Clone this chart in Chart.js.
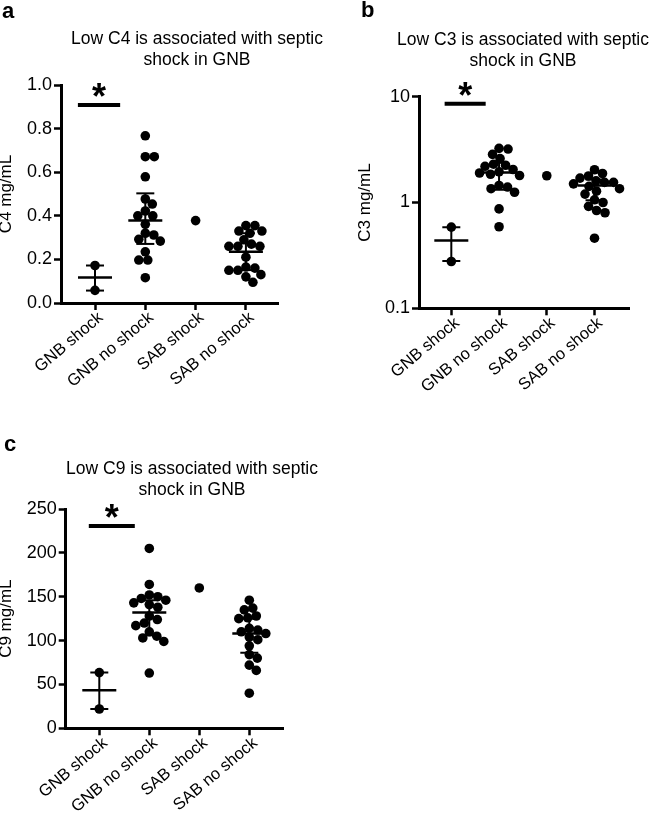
<!DOCTYPE html>
<html>
<head>
<meta charset="utf-8">
<script src="https://cdn.jsdelivr.net/npm/chart.js@4.4.1/dist/chart.umd.min.js"></script>
<style>
  body { margin: 0; width: 649px; height: 823px; position: relative; overflow: hidden; background: #fff;
         font-family: 'Liberation Sans', Arial, sans-serif; color: #000; }
  canvas { position: absolute; }
  .tag { position: absolute; font-weight: bold; font-size: 22px; line-height: 22px; }
  .ttl { position: absolute; width: 300px; text-align: center; font-size: 17.5px; line-height: 21px; white-space: nowrap; }
</style>
</head>
<body>
<canvas id="chartA" width="325" height="400" style="left:0;top:0"></canvas>
<canvas id="chartB" width="324" height="400" style="left:325px;top:0"></canvas>
<canvas id="chartC" width="325" height="423" style="left:0;top:400px"></canvas>

<div class="tag" style="left:2px;top:0">a</div>
<div class="tag" style="left:361px;top:-1px">b</div>
<div class="tag" style="left:4px;top:433px">c</div>
<div class="ttl" style="left:47px;top:28px">Low C4 is associated with septic<br>shock in GNB</div>
<div class="ttl" style="left:373px;top:29px">Low C3 is associated with septic<br>shock in GNB</div>
<div class="ttl" style="left:42px;top:458px">Low C9 is associated with septic<br>shock in GNB</div>

<script>
const categories = ["GNB shock", "GNB no shock", "SAB shock", "SAB no shock"];

// panel a - C4 mg/mL
const c4GnbShock = [0.172, 0.058];
const c4GnbNoShock = [0.767, 0.671, 0.671, 0.579, 0.477, 0.454, 0.422, 0.40, 0.40, 0.361, 0.320, 0.312, 0.292, 0.284, 0.235, 0.197, 0.197, 0.116];
const c4SabShock = [0.378];
const c4SabNoShock = [0.355, 0.355, 0.33, 0.33, 0.32, 0.29, 0.27, 0.26, 0.26, 0.26, 0.21, 0.165, 0.16, 0.15, 0.15, 0.13, 0.12, 0.095];
const c4Center = [0.117, 0.378, null, 0.235];
const c4Low = [0.057, 0.271, null, 0.151];
const c4High = [0.172, 0.503, null, 0.32];
const c4Ticks = [0, 0.2, 0.4, 0.6, 0.8, 1.0];

// panel b - C3 mg/mL (log axis)
const c3GnbShock = [0.585, 0.277];
const c3GnbNoShock = [3.25, 3.2, 2.85, 2.6, 2.3, 2.25, 2.2, 2.05, 1.95, 1.9, 1.85, 1.8, 1.45, 1.4, 1.35, 1.25, 0.87, 0.59];
const c3SabShock = [1.79];
const c3SabNoShock = [2.04, 1.88, 1.78, 1.7, 1.6, 1.55, 1.55, 1.5, 1.42, 1.35, 1.28, 1.2, 1.06, 1.0, 0.92, 0.84, 0.8, 0.46];
const c3Center = [0.437, 1.92, null, 1.45];
const c3Low = [0.28, 1.32, null, 1.05];
const c3High = [0.585, 2.37, null, 1.65];
const c3Ticks = [0.1, 1, 10];

// panel c - C9 mg/mL
const c9GnbShock = [63.5, 22];
const c9GnbNoShock = [205, 164, 152, 150, 148, 146, 143, 141, 138, 128, 124, 120, 117, 110, 105, 103, 99, 63];
const c9SabShock = [160];
const c9SabNoShock = [146, 137, 135, 128, 126, 125, 114, 112, 110, 108, 104, 101, 94, 84, 80, 72, 66, 40];
const c9Center = [43.3, 132, null, 108];
const c9Low = [22, 106, null, 86];
const c9High = [63.5, 146, null, 125];
const c9Ticks = [0, 50, 100, 150, 200, 250];

// significance bars: from / to in category units, height in data units
const sigA = { from: -0.34, to: 0.5, y: 0.908 };
const sigB = { from: -0.14, to: 0.72, y: 8.57 };
const sigC = { from: -0.21, to: 0.71, y: 230.6 };

Chart.defaults.font.family = "'Liberation Sans', Arial, sans-serif";
Chart.defaults.font.size = 18;
Chart.defaults.color = "#000";

const DOT = 4.8;
const GAP = 8.6;

// simple beeswarm: pixel offsets so dots of one group barely overlap
function swarm(values, yScale) {
  const placed = [];
  return values.map((v) => {
    const py = yScale.getPixelForValue(v);
    let off = 0;
    for (let k = 0; k < 400; k++) {
      const cand = (k % 2 ? 1 : -1) * Math.ceil(k / 2) * 0.5;
      if (placed.every((p) => Math.hypot(p.x - cand, p.y - py) >= GAP)) {
        off = cand;
        break;
      }
    }
    placed.push({ x: off, y: py });
    return off;
  });
}

const starPlugin = {
  id: "star",
  afterDatasetsDraw(chart, args, opts) {
    const { ctx, scales: { x, y } } = chart;
    ctx.save();
    ctx.font = "bold 36px 'Liberation Sans', Arial, sans-serif";
    ctx.textAlign = "center";
    ctx.textBaseline = "alphabetic";
    ctx.fillStyle = "#000";
    ctx.fillText("*", x.getPixelForValue((opts.from + opts.to) / 2), y.getPixelForValue(opts.y) + 4);
    ctx.restore();
  },
};

function buildPanel(id, p) {
  const canvas = document.getElementById(id);
  const W = canvas.width, H = canvas.height;

  const dots = [];
  p.groups.forEach((vals, i) => vals.forEach((v) => dots.push({ x: i, y: v })));
  const whiskers = [], caps = [], centers = [];
  p.center.forEach((m, i) => {
    if (m === null) return;
    whiskers.push({ x: i, y: p.low[i] }, { x: i, y: p.high[i] }, { x: i, y: null });
    caps.push({ x: i, y: p.low[i] }, { x: i, y: p.high[i] });
    centers.push({ x: i, y: m });
  });

  const chart = new Chart(canvas, {
    type: "scatter",
    data: {
      datasets: [
        { data: dots, pointRadius: DOT, pointBackgroundColor: "#000", pointBorderWidth: 0 },
        { data: whiskers, showLine: true, spanGaps: false, borderColor: "#000", borderWidth: 2, pointRadius: 0 },
        { data: caps, pointStyle: "line", pointRadius: 9, pointBorderColor: "#000", pointBorderWidth: 2 },
        { data: centers, pointStyle: "line", pointRadius: 17, pointBorderColor: "#000", pointBorderWidth: 2.5 },
        {
          data: [{ x: p.sig.from, y: p.sig.y }, { x: p.sig.to, y: p.sig.y }],
          showLine: true, borderColor: "#000", borderWidth: 4, pointRadius: 0, clip: false,
        },
      ],
    },
    options: {
      responsive: false,
      animation: false,
      layout: { padding: { left: 0, top: p.area.top, right: W - p.area.right, bottom: 0 } },
      plugins: { legend: { display: false }, tooltip: { enabled: false }, star: p.sig },
      scales: {
        x: {
          type: "linear",
          min: p.xmin,
          max: p.xmax,
          afterFit: (s) => { s.height = H - p.area.bottom; },
          afterBuildTicks: (s) => { s.ticks = categories.map((c, i) => ({ value: i })); },
          ticks: { minRotation: 40, maxRotation: 40, autoSkip: false, padding: -2, labelOffset: 6,
                   font: { size: 16.5 }, callback: (v) => categories[v] },
          grid: { drawOnChartArea: false, tickLength: 7, tickWidth: 2.5, tickColor: "#000" },
          border: { color: "#000", width: 3 },
        },
        y: {
          type: p.log ? "logarithmic" : "linear",
          min: p.ticks[0],
          max: p.ticks[p.ticks.length - 1],
          afterFit: (s) => { s.width = p.area.left; },
          afterBuildTicks: (s) => { s.ticks = p.ticks.map((v) => ({ value: v })); },
          ticks: { padding: 2, callback: p.fmt },
          grid: { drawOnChartArea: false, tickLength: 7, tickWidth: 2.5, tickColor: "#000" },
          border: { color: "#000", width: 3 },
          title: { display: true, text: p.ytitle, font: { size: 17, lineHeight: "12px" },
                   padding: { top: p.ytitlePad, bottom: 0 } },
        },
      },
    },
    plugins: [starPlugin],
  });

  const unit = chart.scales.x.getPixelForValue(1) - chart.scales.x.getPixelForValue(0);
  const spread = [];
  p.groups.forEach((vals, i) => {
    const offs = swarm(vals, chart.scales.y);
    vals.forEach((v, j) => spread.push({ x: i + offs[j] / unit, y: v }));
  });
  chart.data.datasets[0].data = spread;
  chart.update("none");
  return chart;
}

buildPanel("chartA", {
  groups: [c4GnbShock, c4GnbNoShock, c4SabShock, c4SabNoShock],
  center: c4Center, low: c4Low, high: c4High, ticks: c4Ticks, sig: sigA,
  fmt: (v) => v.toFixed(1), ytitle: "C4 mg/mL", ytitlePad: 0,
  area: { left: 61, right: 278, top: 85, bottom: 303 }, xmin: -0.676, xmax: 3.638,
});

buildPanel("chartB", {
  groups: [c3GnbShock, c3GnbNoShock, c3SabShock, c3SabNoShock],
  center: c3Center, low: c3Low, high: c3High, ticks: c3Ticks, sig: sigB, log: true,
  fmt: (v) => String(v), ytitle: "C3 mg/mL", ytitlePad: 34,
  area: { left: 94, right: 307, top: 96.7, bottom: 308.3 }, xmin: -0.677, xmax: 3.733,
});

buildPanel("chartC", {
  groups: [c9GnbShock, c9GnbNoShock, c9SabShock, c9SabNoShock],
  center: c9Center, low: c9Low, high: c9High, ticks: c9Ticks, sig: sigC,
  fmt: (v) => String(v), ytitle: "C9 mg/mL", ytitlePad: 0.5,
  area: { left: 65.7, right: 283.3, top: 109, bottom: 328.3 }, xmin: -0.672, xmax: 3.68,
});
</script>
</body>
</html>
